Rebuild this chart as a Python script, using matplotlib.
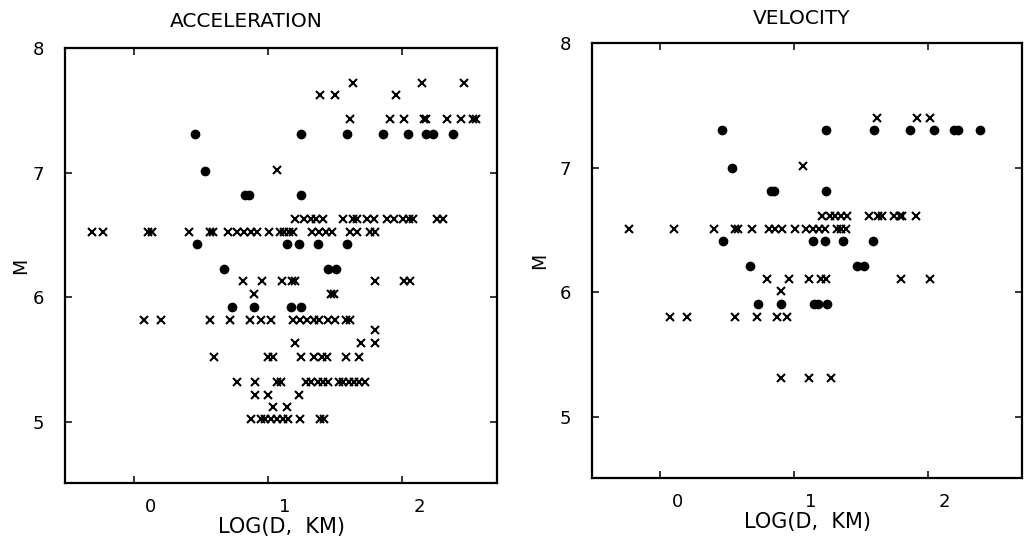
import matplotlib
matplotlib.use("Agg")
import matplotlib.pyplot as plt
from matplotlib.transforms import ScaledTranslation

# ---------------- data ----------------
# ACCELERATION panel, crosses
acc_cross_d = [1.63, 2.15, 2.46,
               1.385, 1.50, 1.95,
               1.61, 1.91, 2.01, 2.16, 2.18, 2.33, 2.44, 2.53, 2.55,
               1.07,
               1.20, 1.27, 1.32, 1.36, 1.41, 1.56, 1.63, 1.66, 1.74, 1.79, 1.89, 1.935, 2.005, 2.05, 2.08, 2.26, 2.30,
               -0.31, -0.23, 0.106, 0.139, 0.41, 0.57, 0.59, 0.70, 0.77, 0.82, 0.875, 0.92, 1.01, 1.09, 1.12, 1.155,
               1.19, 1.33, 1.38, 1.43, 1.48, 1.61, 1.66, 1.76, 1.80,
               0.815, 0.955, 1.105, 1.18, 1.20, 1.80, 2.01, 2.06,
               0.895, 1.47, 1.49,
               0.077, 0.205, 0.567, 0.72, 0.865, 0.95, 1.02, 1.19, 1.24, 1.29, 1.34, 1.38, 1.45, 1.50, 1.58, 1.61,
               1.80,
               1.20, 1.69, 1.80,
               0.60, 1.00, 1.04, 1.25, 1.34, 1.40, 1.44, 1.58, 1.68,
               0.77, 0.905, 1.07, 1.10, 1.28, 1.32, 1.37, 1.41, 1.45, 1.53, 1.56, 1.60, 1.64, 1.675, 1.725,
               0.905, 1.00, 1.23,
               1.04, 1.14,
               0.875, 0.945, 0.98, 1.02, 1.07, 1.11, 1.15, 1.24, 1.39, 1.42]
acc_cross_m = [7.72] * 3 + [7.62] * 3 + [7.43] * 9 + [7.02] * 1 + [6.63] * 17 + [6.52] * 25 + \
              [6.13] * 8 + [6.03] * 3 + [5.82] * 16 + [5.74] * 1 + [5.63] * 3 + [5.52] * 9 + \
              [5.32] * 15 + [5.22] * 3 + [5.12] * 2 + [5.02] * 10

# ACCELERATION panel, filled circles
acc_dot_d = [0.46, 1.25, 1.59, 1.86, 2.04, 2.18, 2.23, 2.38,
             0.53,
             0.83, 0.86, 1.25,
             0.47, 1.14, 1.23, 1.37, 1.59,
             0.67, 1.45, 1.51,
             0.73, 0.90, 1.17, 1.25]
acc_dot_m = [7.31] * 8 + [7.01] * 1 + [6.82] * 3 + [6.43] * 5 + [6.23] * 3 + [5.92] * 4

# VELOCITY panel, crosses
vel_cross_d = [1.62, 1.92, 2.02,
               1.07,
               1.21, 1.27, 1.31, 1.35, 1.40, 1.56, 1.63, 1.66, 1.75, 1.79, 1.81, 1.91,
               -0.23, 0.10, 0.40, 0.56, 0.58, 0.69, 0.81, 0.86, 0.91, 1.01, 1.09, 1.14, 1.19, 1.23, 1.32, 1.35, 1.39,
               0.80, 0.96, 1.11, 1.20, 1.24, 1.80, 2.02,
               0.90,
               0.07, 0.20, 0.56, 0.72, 0.87, 0.95,
               0.90, 1.11, 1.28]
vel_cross_m = [7.40] * 3 + [7.01] * 1 + [6.61] * 12 + [6.51] * 17 + [6.11] * 7 + [6.01] * 1 + \
              [5.80] * 6 + [5.31] * 3

# VELOCITY panel, filled circles
vel_dot_d = [0.46, 1.24, 1.60, 1.87, 2.05, 2.20, 2.23, 2.39,
             0.54,
             0.83, 0.85, 1.24,
             0.47, 1.14, 1.23, 1.37, 1.59,
             0.67, 1.47, 1.52,
             0.73, 0.90, 1.15, 1.18, 1.25]
vel_dot_m = [7.30] * 8 + [7.00] * 1 + [6.81] * 3 + [6.41] * 5 + [6.21] * 3 + [5.91] * 5

x_ticks = [0, 1, 2]
x_tick_labels = ["0", "1", "2"]
y_ticks = [5, 6, 7, 8]
y_tick_labels = ["5", "6", "7", "8"]
titles = ["ACCELERATION", "VELOCITY"]
x_label = "LOG(D,  KM)"
y_label = "M"

# ---------------- figure ----------------
plt.rcParams["font.family"] = ["DejaVu Sans"]
W, H = 1027, 547
fig = plt.figure(figsize=(W / 100, H / 100), dpi=100)

ax_l = fig.add_axes([65 / W, 1 - 483 / H, 432 / W, 435 / H])
ax_r = fig.add_axes([592 / W, 1 - 478 / H, 430 / W, 435 / H])

panels = [
    (ax_l, acc_cross_d, acc_cross_m, acc_dot_d, acc_dot_m, titles[0], 0.42, 15),
    (ax_r, vel_cross_d, vel_cross_m, vel_dot_d, vel_dot_m, titles[1], 0.488, 14),
]

for ax, cd, cm, dd, dm, title, tx, tpad in panels:
    ax.plot(cd, cm, linestyle="none", marker="x", color="black",
            markersize=5.5, markeredgewidth=1.5)
    ax.plot(dd, dm, linestyle="none", marker="o", color="black",
            markersize=7, markeredgewidth=0)
    ax.set_xlim(-0.51, 2.705)
    ax.set_ylim(4.51, 7.995)
    ax.set_xticks(x_ticks)
    ax.set_xticklabels(x_tick_labels)
    ax.set_yticks(y_ticks)
    ax.set_yticklabels(y_tick_labels)
    ax.tick_params(direction="in", top=True, right=True, length=5, width=1.1,
                   labelsize=13)
    ax.tick_params(axis="x", pad=11)
    ax.tick_params(axis="y", pad=15)
    for s in ax.spines.values():
        s.set_linewidth(1.6)
    # tick labels in the original sit a little right of their ticks
    for lab in ax.get_xticklabels():
        lab.set_transform(lab.get_transform() +
                          ScaledTranslation(17 / 100, 0, fig.dpi_scale_trans))
    ax.set_title(title, x=tx, pad=tpad, fontsize=14.5)
    ax.set_xlabel(x_label, fontsize=15)
    ax.xaxis.set_label_coords(0.5, -34 / 435)
    ax.xaxis.label.set_va("top")
    ax.set_ylabel(y_label, fontsize=13.5)

ax_l.yaxis.set_label_coords(-(65 - 30) / 432, 0.5)
ax_r.yaxis.set_label_coords(-(592 - 549) / 430, 0.5)

fig.savefig("out.png", dpi=100)
